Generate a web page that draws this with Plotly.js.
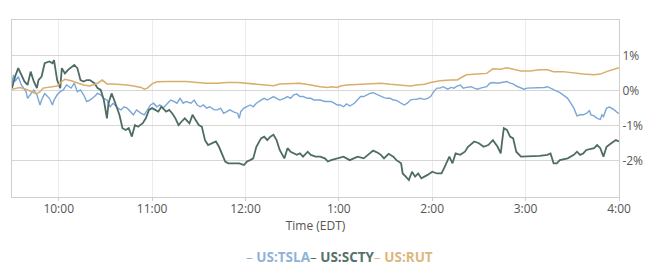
<!DOCTYPE html>
<html>
<head>
<meta charset="utf-8">
<script src="https://cdn.plot.ly/plotly-3.0.1.min.js"></script>
<style>html,body{margin:0;padding:0;background:#fff;}#chart{width:659px;height:274px;}</style>
</head>
<body>
<div id="chart"></div>
<script>
// minutes after 9:30 EDT, percent change
const tslaMin = [0,1,2,4,6,9,10,12,14,16,18,19,21,24,26,27,29,31,33,35,38,40,42,44,46,48,50,53,55,57,59,61,63,65,68,70,72,74,76,78,80,83,85,87,89,91,93,95,97,100,102,104,106,108,110,112,115,117,119,121,123,125,127,130,132,134,136,138,140,142,145,146,147,149,151,153,155,157,160,162,164,166,168,170,172,175,177,179,181,183,185,187,190,192,194,196,198,201,203,205,207,209,211,213,215,217,220,222,224,226,228,230,232,235,237,239,241,243,245,247,250,252,254,256,258,260,262,265,267,269,271,273,275,277,280,282,284,286,288,290,292,295,297,299,301,303,305,307,309,312,314,316,318,320,322,324,327,329,331,333,335,337,339,342,344,346,348,350,352,354,357,359,361,363,365,367,369,371,372,374,376,378,379,380,382,384,387,389,390];
const tslaPct = [0.2,0.45,0.26,0.40,0.16,-0.03,-0.22,-0.08,0.02,-0.12,-0.41,-0.27,-0.08,-0.22,-0.41,-0.27,-0.12,-0.03,0.02,0.16,0.07,0.21,-0.03,0.02,-0.12,-0.31,-0.27,-0.17,-0.08,-0.12,-0.22,-0.27,-0.46,-0.36,-0.50,-0.55,-0.46,-0.50,-0.60,-0.69,-0.55,-0.65,-0.69,-0.55,-0.41,-0.36,-0.46,-0.41,-0.50,-0.36,-0.27,-0.31,-0.36,-0.22,-0.36,-0.31,-0.36,-0.27,-0.41,-0.46,-0.41,-0.50,-0.46,-0.55,-0.55,-0.50,-0.65,-0.60,-0.55,-0.60,-0.65,-0.79,-0.60,-0.50,-0.46,-0.41,-0.46,-0.36,-0.27,-0.22,-0.27,-0.22,-0.17,-0.22,-0.27,-0.22,-0.17,-0.22,-0.12,-0.10,-0.17,-0.17,-0.22,-0.22,-0.27,-0.27,-0.27,-0.31,-0.31,-0.31,-0.36,-0.41,-0.41,-0.46,-0.38,-0.44,-0.36,-0.27,-0.17,-0.17,-0.12,-0.08,-0.06,-0.12,-0.17,-0.20,-0.22,-0.22,-0.27,-0.28,-0.36,-0.41,-0.36,-0.27,-0.25,-0.25,-0.22,-0.25,-0.22,-0.17,-0.03,0.07,0.07,0.11,0.04,0.09,0.07,0.13,0.16,0.07,0.09,0.11,0.07,0.04,0.07,0.09,0.11,0.21,0.23,0.21,0.23,0.23,0.26,0.21,0.19,0.13,0.07,0.04,0.07,0.07,0.07,0.09,0.07,0.09,0.11,0.07,0.02,-0.03,-0.06,-0.12,-0.22,-0.36,-0.50,-0.72,-0.69,-0.69,-0.65,-0.57,-0.69,-0.72,-0.79,-0.82,-0.69,-0.74,-0.50,-0.47,-0.55,-0.63,-0.65];

const sctyMin = [0,2,4,5,8,10,12,14,16,17,19,21,24,26,27,29,31,32,34,36,40,42,44,46,48,50,53,55,57,59,61,62,64,66,69,71,73,75,77,79,81,84,86,88,90,92,94,96,99,101,103,105,107,109,111,114,116,118,120,122,124,126,129,131,133,135,137,139,143,146,149,151,153,155,157,160,162,164,166,168,170,172,175,177,179,181,183,185,187,190,192,195,198,201,203,205,209,213,217,222,226,230,232,235,237,239,242,245,247,250,251,253,255,257,259,261,263,267,270,273,276,278,281,283,285,288,291,293,297,300,303,306,309,312,314,315,316,318,320,322,324,327,331,335,339,344,346,348,350,352,357,361,363,365,367,369,374,376,378,380,382,385,388,390];
const sctyPct = [0.07,0.40,0.64,0.54,0.26,0.16,0.54,0.26,0.07,0.30,0.40,0.78,0.83,0.78,0.87,0.30,0.07,0.64,0.49,0.59,0.73,0.64,0.30,0.26,0.30,0.30,0.21,0.07,0.02,-0.27,-0.79,-0.36,-0.08,-0.31,-0.69,-1.07,-1.12,-1.07,-1.31,-0.98,-1.03,-0.93,-0.79,-0.55,-0.50,-0.55,-0.60,-0.46,-0.60,-0.55,-0.65,-0.79,-0.98,-0.88,-0.79,-0.93,-0.69,-0.84,-0.98,-1.03,-1.41,-1.55,-1.50,-1.45,-1.60,-1.83,-2.02,-2.07,-2.07,-2.07,-2.12,-2.02,-1.98,-1.93,-1.60,-1.36,-1.31,-1.41,-1.31,-1.26,-1.41,-1.69,-1.93,-1.64,-1.74,-1.79,-1.83,-1.79,-1.88,-1.74,-1.83,-1.88,-1.88,-1.93,-2.02,-1.98,-1.93,-1.88,-1.98,-1.88,-1.93,-1.79,-1.71,-1.77,-1.83,-1.93,-1.80,-1.88,-1.98,-2.07,-2.36,-2.45,-2.55,-2.31,-2.45,-2.36,-2.50,-2.40,-2.31,-2.36,-2.36,-2.17,-1.88,-2.07,-1.79,-1.83,-1.74,-1.60,-1.45,-1.50,-1.60,-1.55,-1.41,-1.60,-1.79,-1.41,-1.07,-1.12,-1.31,-1.36,-1.74,-1.88,-1.88,-1.88,-1.86,-1.83,-1.79,-2.07,-2.07,-1.98,-1.93,-1.83,-1.74,-1.83,-1.79,-1.69,-1.64,-1.55,-1.64,-1.88,-1.60,-1.50,-1.41,-1.45];

const rutMin = [0,3,5,9,12,14,16,18,20,25,29,32,34,38,42,46,50,55,58,61,65,70,74,78,83,85,87,90,93,100,106,112,119,125,132,138,145,151,157,164,168,172,179,185,192,198,203,205,209,211,215,222,228,237,243,250,256,260,265,269,275,282,286,289,292,299,305,309,314,318,322,327,333,339,344,348,354,359,363,367,374,378,382,387,390];
const rutPct = [0.04,0.07,0.09,0.04,-0.03,-0.06,-0.09,-0.03,0.07,0.11,0.13,0.26,0.32,0.28,0.21,0.16,0.13,0.21,0.30,0.19,0.19,0.18,0.16,0.13,0.09,0.04,0.07,0.19,0.25,0.26,0.27,0.26,0.23,0.21,0.21,0.23,0.23,0.21,0.19,0.16,0.14,0.19,0.21,0.21,0.16,0.11,0.09,0.11,0.09,0.13,0.16,0.17,0.18,0.21,0.18,0.16,0.13,0.16,0.18,0.23,0.28,0.30,0.30,0.38,0.45,0.47,0.49,0.62,0.61,0.65,0.61,0.56,0.56,0.59,0.59,0.54,0.54,0.51,0.49,0.47,0.45,0.47,0.54,0.61,0.65];

const hourTicks = ['10:00','11:00','12:00','13:00','14:00','15:00','16:00'];
const pctTicks = [-2,-1,0,1];
const pctLabels = ['-2%','-1%','0%','1%'];
const seriesNames = ['US:TSLA','US:SCTY','US:RUT'];
const seriesColors = ['#7aa7d8','#4e6c65','#d8ae6b'];
const legendColors = ['#8fb2d9','#56706a','#dcb77e'];

const day = '2016-06-21';
function toTime(m){
  const total = 9*60+30+m;
  const h = Math.floor(total/60), mm = total%60;
  return day+' '+String(h).padStart(2,'0')+':'+String(mm).padStart(2,'0');
}

const sets = [[tslaMin,tslaPct,1.4],[sctyMin,sctyPct,1.8],[rutMin,rutPct,1.5]];
const traces = sets.map((s,i)=>({
  type:'scatter', mode:'lines',
  x:s[0].map(toTime), y:s[1],
  name:seriesNames[i],
  line:{color:seriesColors[i], width:s[2]},
  hoverinfo:'skip'
}));

// compact legend, drawn as one line of real text
const legendText = seriesNames.map((n,i)=>
  '<span style="color:'+legendColors[i]+'">– <b>'+n+'</b></span>').join('');

const layout = {
  width:659, height:274,
  margin:{l:12, r:40, t:20, b:77, autoexpand:false},
  paper_bgcolor:'#fff', plot_bgcolor:'#fff',
  font:{family:'"Open Sans", "Noto Sans", sans-serif', size:12, color:'#555'},
  showlegend:false,
  annotations:[{
    text:legendText, xref:'paper', yref:'paper', x:0.539, y:-0.339,
    xanchor:'center', yanchor:'middle', showarrow:false,
    font:{family:'"Open Sans", sans-serif', size:13.5, color:'#555'}
  }],
  xaxis:{
    type:'date',
    range:[toTime(0), toTime(390)],
    tickvals:hourTicks.map(t=>day+' '+t),
    tickformat:'%-I:%M',
    showgrid:true, gridcolor:'#ececec', gridwidth:1,
    showline:true, linecolor:'#cfcfcf', linewidth:1, mirror:true,
    ticks:'outside', ticklen:3, tickcolor:'#cfcfcf',
    ticklabelstandoff:-2,
    tickfont:{size:12, color:'#555'},
    title:{text:'Time (EDT)', font:{size:12, color:'#555'}, standoff:0},
    zeroline:false, fixedrange:true, automargin:false
  },
  yaxis:{
    side:'right',
    range:[-3.03, 2.01],
    tickmode:'array',
    tickvals:pctTicks,
    ticktext:pctLabels,
    showgrid:true, gridcolor:'#d6d6d6', gridwidth:1,
    showline:true, linecolor:'#cfcfcf', linewidth:1, mirror:true,
    ticks:'',
    tickfont:{size:12, color:'#555'},
    zeroline:false, fixedrange:true, automargin:false
  }
};
Plotly.newPlot('chart', traces, layout, {displayModeBar:false, staticPlot:true});
</script>
</body>
</html>
